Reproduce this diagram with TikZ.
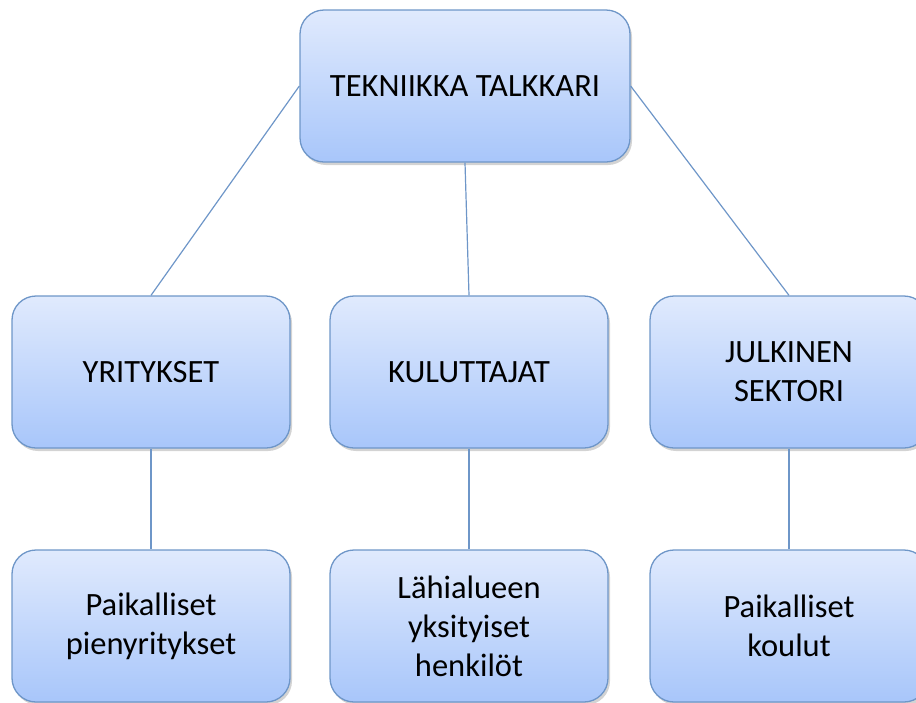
\documentclass[tikz,border=0pt]{standalone}
\usepackage{fontspec}
\setmainfont{Carlito}
\usepackage{tikz}
\usetikzlibrary{shadows}
\definecolor{boxtop}{RGB}{224,234,253}
\definecolor{boxbot}{RGB}{168,198,250}
\definecolor{boxline}{RGB}{110,150,200}
\tikzset{
  box/.style={draw=boxline,line width=1.3pt,rounded corners=24pt,
    top color=boxtop,bottom color=boxbot,
    minimum width=278pt,minimum height=152pt,align=center,
    font=\fontsize{32.5}{39}\selectfont,
    drop shadow={shadow xshift=2pt,shadow yshift=-3pt,opacity=0.35}},
  link/.style={draw=boxline,line width=1.2pt}
}
\begin{document}
\begin{tikzpicture}[x=1pt,y=-1pt]
  \useasboundingbox (0,0) rectangle (916,702);
  \node[box,minimum width=330pt] (tek) at (465,86) {TEKNIIKKA TALKKARI};
  \node[box] (yri) at (151,372) {YRITYKSET};
  \node[box] (kul) at (469,372) {KULUTTAJAT};
  \node[box] (jul) at (789,372) {JULKINEN\\SEKTORI};
  \node[box] (pien) at (151,626) {Paikalliset\\pienyritykset};
  \node[box] (hen) at (469,626) {Lähialueen\\yksityiset\\henkilöt};
  \node[box] (kou) at (789,626) {Paikalliset\\koulut};
  \draw[link] (tek.west) -- (yri.north);
  \draw[link] (tek.south) -- (kul.north);
  \draw[link] (tek.east) -- (jul.north);
  \draw[link] (yri) -- (pien);
  \draw[link] (kul) -- (hen);
  \draw[link] (jul) -- (kou);
\end{tikzpicture}
\end{document}
